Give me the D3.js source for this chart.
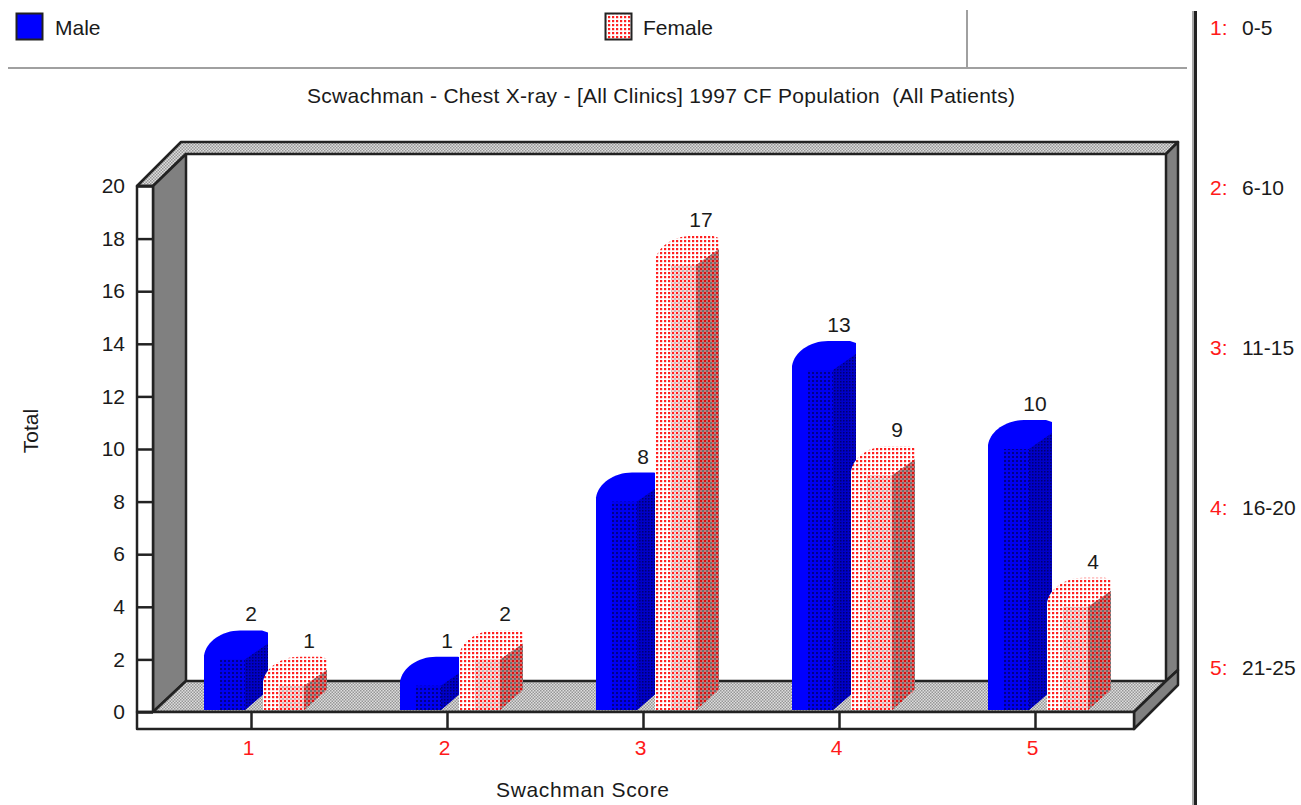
<!DOCTYPE html>
<html>
<head>
<meta charset="utf-8">
<script src="https://cdnjs.cloudflare.com/ajax/libs/d3/7.8.5/d3.min.js"></script>
<style>
html, body { margin: 0; padding: 0; background: #fff; }
svg { display: block; }
text { font-family: "Liberation Sans", Arial, sans-serif; font-size: 21px; fill: #1a1a1a; }
</style>
</head>
<body>
<div id="chart"></div>
<script>
var categories = ["1", "2", "3", "4", "5"];
var maleValues = [2, 1, 8, 13, 10];
var femaleValues = [1, 2, 17, 9, 4];
var scoreRanges = ["0-5", "6-10", "11-15", "16-20", "21-25"];
var yTicks = [0, 2, 4, 6, 8, 10, 12, 14, 16, 18, 20];
var titleText = "Scwachman - Chest X-ray - [All Clinics] 1997 CF Population  (All Patients)";

var width = 1301, height = 805;
var lineCol = "#222";

var svg = d3.select("#chart").append("svg")
    .attr("width", width)
    .attr("height", height);

var defs = svg.append("defs");

// dotted fills, the old chart control used these instead of shading
function dotPattern(id, bg, dot, size, r) {
    var p = defs.append("pattern")
        .attr("id", id)
        .attr("patternUnits", "userSpaceOnUse")
        .attr("width", size)
        .attr("height", size);
    p.append("rect").attr("width", size).attr("height", size).attr("fill", bg);
    p.append("rect").attr("x", 0).attr("y", 0).attr("width", r).attr("height", r).attr("fill", dot);
    return p;
}
var hatch = dotPattern("floorHatch", "#dedede", "#969696", 3, 1.5);
hatch.append("rect").attr("x", 1.5).attr("y", 1.5).attr("width", 1.5).attr("height", 1.5).attr("fill", "#969696");
dotPattern("redTop", "#fff", "#ff2020", 4, 2.2);
dotPattern("blueFront", "#0000f0", "#00008a", 4, 2);
dotPattern("blueSide", "#0000c8", "#000070", 3, 1.5);
var rf = dotPattern("redFront", "#ffd0d0", "#ff2020", 4, 2);
rf.append("rect").attr("x", 2).attr("y", 2).attr("width", 2).attr("height", 2).attr("fill", "#c4c4c4");
var rs = dotPattern("redSide", "#c87878", "#d81010", 4, 2);
rs.append("rect").attr("x", 2).attr("y", 2).attr("width", 2).attr("height", 2).attr("fill", "#707070");

var x = d3.scalePoint().domain(categories).range([251, 1035]);
var y = d3.scaleLinear().domain([0, 20]).range([712, 186]);

function poly(points, fill) {
    return svg.append("polygon")
        .attr("points", points.map(function(p) { return p.join(","); }).join(" "))
        .attr("fill", fill)
        .attr("stroke", lineCol)
        .attr("stroke-width", 2.5)
        .attr("stroke-linejoin", "round");
}

/* ------ legend and frame lines -------- */
svg.append("rect").attr("x", 16.5).attr("y", 13.5).attr("width", 26).attr("height", 26)
    .attr("fill", "#0000ff").attr("stroke", lineCol).attr("stroke-width", 2);
svg.append("text").attr("x", 55).attr("y", 35).text("Male");
svg.append("rect").attr("x", 605.5).attr("y", 13.5).attr("width", 26).attr("height", 26)
    .attr("fill", "url(#redTop)").attr("stroke", lineCol).attr("stroke-width", 2);
svg.append("text").attr("x", 643).attr("y", 35).text("Female");

svg.append("line").attr("x1", 8).attr("x2", 1187).attr("y1", 68).attr("y2", 68)
    .attr("stroke", "#a0a0a0").attr("stroke-width", 2);
svg.append("line").attr("x1", 967).attr("x2", 967).attr("y1", 10).attr("y2", 68)
    .attr("stroke", "#a0a0a0").attr("stroke-width", 2);
svg.append("line").attr("x1", 1193).attr("x2", 1193).attr("y1", 11).attr("y2", height)
    .attr("stroke", "#a8a8a8").attr("stroke-width", 2);
svg.append("line").attr("x1", 1195.5).attr("x2", 1195.5).attr("y1", 11).attr("y2", height)
    .attr("stroke", "#222").attr("stroke-width", 3);

svg.append("text").attr("x", 307).attr("y", 103)
    .attr("textLength", 708).attr("lengthAdjust", "spacing")
    .style("white-space", "pre").text(titleText);

/* ------ 3d box -------- */
poly([[137, 186], [181, 142], [1178, 142], [1166, 154], [186, 154], [153, 186]], "url(#floorHatch)");
poly([[153, 186], [186, 154], [186, 681], [153, 712]], "#808080");
poly([[1166, 154], [1178, 142], [1178, 670], [1166, 681]], "#808080");
poly([[153, 712], [186, 681], [1166, 681], [1134, 712]], "url(#floorHatch)");
poly([[1134, 712], [1166, 681], [1178, 670], [1178, 685], [1134, 729]], "#808080");
poly([[137, 186], [153, 186], [153, 712], [137, 712]], "#fff");
poly([[137, 712], [1134, 712], [1134, 729], [137, 729]], "#fff");

/* ------ axes -------- */
var yAxis = d3.axisLeft(y).tickValues(yTicks).tickSize(16).tickPadding(12);
var gy = svg.append("g").attr("transform", "translate(153,0)").call(yAxis);
var xAxis = d3.axisBottom(x).tickSize(17).tickPadding(11);
var gx = svg.append("g").attr("transform", "translate(0,712)").call(xAxis);

gy.select(".domain").remove();
gx.select(".domain").remove();
gy.selectAll("line").attr("stroke", lineCol).attr("stroke-width", 2.5);
gx.selectAll("line").attr("stroke", lineCol).attr("stroke-width", 2.5);
gy.selectAll("text").style("font-size", "21px").style("font-family", "Liberation Sans");
gx.selectAll("text").attr("dx", -3).style("fill", "#ff1a1a").style("font-size", "21px").style("font-family", "Liberation Sans");

/* ------ bars -------- */
var base = 710;
var drawBar = function(x0, value, topFill, frontFill, sideFill) {
    var top = y(value);
    var outline = "M" + x0 + "," + base +
        " L" + x0 + "," + (top - 4) +
        " C" + (x0 + 2) + "," + (top - 18) + " " + (x0 + 18) + "," + (top - 29) + " " + (x0 + 36) + "," + (top - 29) +
        " L" + (x0 + 58) + "," + (top - 29) +
        " L" + (x0 + 64) + "," + (top - 27) +
        " L" + (x0 + 64) + "," + (base - 20) +
        " L" + (x0 + 41) + "," + base + " Z";
    svg.append("path").attr("d", outline).attr("fill", topFill);
    svg.append("rect").attr("x", x0 + 16).attr("y", top).attr("width", 25).attr("height", base - top)
        .attr("fill", frontFill);
    svg.append("polygon")
        .attr("points", [[x0 + 41, top], [x0 + 64, top - 16], [x0 + 64, base - 20], [x0 + 41, base]]
            .map(function(p) { return p.join(","); }).join(" "))
        .attr("fill", sideFill);
};

categories.forEach(function(c, i) {
    drawBar(x(c) - 47, maleValues[i], "#0000ff", "url(#blueFront)", "url(#blueSide)");
    drawBar(x(c) + 12, femaleValues[i], "url(#redTop)", "url(#redFront)", "url(#redSide)");
});

// value labels go on top of all the bars
categories.forEach(function(c, i) {
    svg.append("text").attr("x", x(c)).attr("y", y(maleValues[i]) - 38)
        .attr("text-anchor", "middle").text(maleValues[i]);
    svg.append("text").attr("x", x(c) + 58).attr("y", y(femaleValues[i]) - 38)
        .attr("text-anchor", "middle").text(femaleValues[i]);
});

/* ------ axis titles -------- */
svg.append("text").attr("transform", "translate(38,431) rotate(-90)")
    .attr("text-anchor", "middle").text("Total");
svg.append("text").attr("x", 496).attr("y", 797)
    .attr("textLength", 173).attr("lengthAdjust", "spacing").text("Swachman Score");

/* ------ score key on the right -------- */
var keyY = d3.scalePoint().domain(categories).range([35, 675]);
categories.forEach(function(c, i) {
    svg.append("text").attr("x", 1210).attr("y", keyY(c)).style("fill", "#ff1a1a").text(c + ":");
    svg.append("text").attr("x", 1242).attr("y", keyY(c)).text(scoreRanges[i]);
});
</script>
</body>
</html>
